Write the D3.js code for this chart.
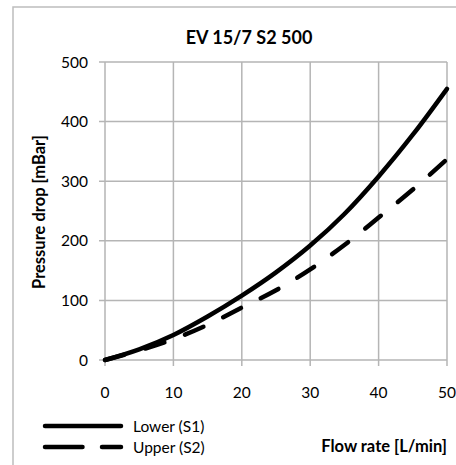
<!DOCTYPE html>
<html lang="en">
  <head>
    <meta charset="UTF-8" />
    <title>EV 15/7 S2 500</title>
    <style>
      body { margin: 0; background: #fff; }
      text { font-family: Lato, "Open Sans", sans-serif; fill: #000; }
    </style>
  </head>
  <body>
    <svg width="456" height="465"></svg>
    <script src="https://cdn.jsdelivr.net/npm/d3@7"></script>
    <script>
      var flow = [0, 5, 10, 15, 20, 25, 30, 35, 40, 45, 50];
      var lower = [0, 18, 42, 73, 108, 147, 192, 245, 308, 378, 455];
      var upper = [0, 16, 35, 59, 88, 117, 152, 193, 239, 286, 337];
      var xTicks = [0, 10, 20, 30, 40, 50];
      var yTicks = [0, 100, 200, 300, 400, 500];

      var svg = d3.select("svg");
      var x = d3.scaleLinear().domain([0, 50]).range([105, 447]);
      var y = d3.scaleLinear().domain([0, 500]).range([360, 62]);

      // outer chart frame (runs off the right/bottom edge)
      svg.append("rect")
        .attr("x", 13).attr("y", 7).attr("width", 470).attr("height", 470)
        .attr("fill", "none").attr("stroke", "#bdbdbd").attr("stroke-width", 1.5);

      // grid + ticks
      svg.append("g").selectAll("line").data(yTicks).enter().append("line")
        .attr("x1", 99).attr("x2", 447)
        .attr("y1", function(d) { return y(d); }).attr("y2", function(d) { return y(d); })
        .attr("stroke", "#b5b5b5").attr("stroke-width", 1.5);
      svg.append("g").selectAll("line").data(xTicks).enter().append("line")
        .attr("y1", 62).attr("y2", 366)
        .attr("x1", function(d) { return x(d); }).attr("x2", function(d) { return x(d); })
        .attr("stroke", "#b5b5b5").attr("stroke-width", 1.5);

      // tick labels
      svg.append("g").selectAll("text").data(yTicks).enter().append("text")
        .attr("x", 88).attr("y", function(d) { return y(d); })
        .attr("dy", "0.36em").attr("text-anchor", "end")
        .style("font-size", "15.5px")
        .text(function(d) { return d; });
      svg.append("g").selectAll("text").data(xTicks).enter().append("text")
        .attr("x", function(d) { return x(d); }).attr("y", 398)
        .attr("text-anchor", "middle")
        .style("font-size", "15.5px")
        .text(function(d) { return d; });

      // title + axis titles
      svg.append("text").attr("x", 249).attr("y", 44).attr("text-anchor", "middle")
        .style("font-size", "18px").style("font-weight", "bold").text("EV 15/7 S2 500");
      svg.append("text").attr("transform", "translate(45,212) rotate(-90)")
        .attr("text-anchor", "middle")
        .style("font-size", "16.5px").style("font-weight", "bold").text("Pressure drop [mBar]");
      svg.append("text").attr("x", 447).attr("y", 452).attr("text-anchor", "end")
        .style("font-size", "16.5px").style("font-weight", "bold").text("Flow rate [L/min]");

      // curves
      var line = d3.line()
        .x(function(d, i) { return x(flow[i]); })
        .y(function(d) { return y(d); })
        .curve(d3.curveCatmullRom);
      svg.append("path").datum(lower).attr("d", line)
        .attr("fill", "none").attr("stroke", "#000").attr("stroke-width", 4.5)
        .attr("stroke-linecap", "round");
      svg.append("path").datum(upper).attr("d", line)
        .attr("fill", "none").attr("stroke", "#000").attr("stroke-width", 4.5)
        .attr("stroke-linecap", "round").attr("stroke-dasharray", "20,22");

      // legend
      var legend = [
        { name: "Lower (S1)", dash: null },
        { name: "Upper (S2)", dash: "37.5,19.5" }
      ];
      var lg = svg.append("g").selectAll("g").data(legend).enter().append("g")
        .attr("transform", function(d, i) { return "translate(0," + (426 + i * 21) + ")"; });
      lg.append("line").attr("x1", 45).attr("x2", 121)
        .attr("stroke", "#000").attr("stroke-width", 4.5).attr("stroke-linecap", "round")
        .attr("stroke-dasharray", function(d) { return d.dash; });
      lg.append("text").attr("x", 133).attr("dy", "0.36em")
        .style("font-size", "15.5px").text(function(d) { return d.name; });
    </script>
  </body>
</html>
